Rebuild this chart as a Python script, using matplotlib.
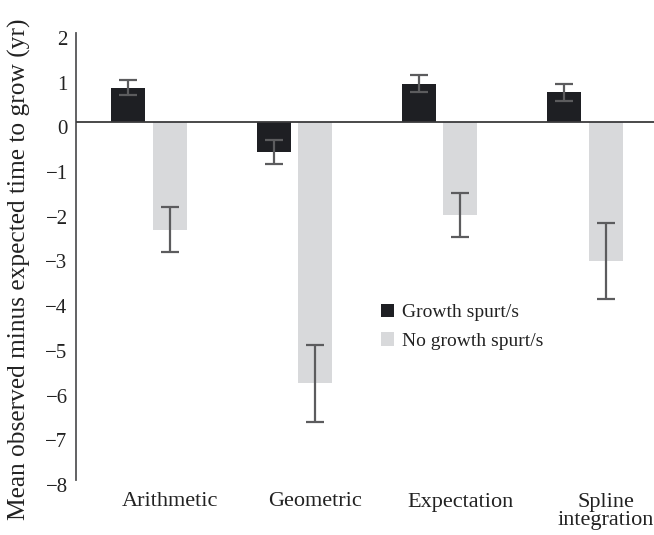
import matplotlib
matplotlib.use("Agg")
import matplotlib.pyplot as plt
import matplotlib.transforms as mtrans
import numpy as np

categories = ["Arithmetic", "Geometric", "Expectation", "Spline\nintegration"]
growth = [0.78, -0.66, 0.87, 0.67]
growth_err = [0.17, 0.26, 0.18, 0.20]
no_growth = [-2.40, -5.84, -2.07, -3.10]
no_growth_err = [0.50, 0.86, 0.49, 0.86]
yticks = [2, 1, 0, -1, -2, -3, -4, -5, -6, -7, -8]

plt.rcParams['font.family'] = ['Liberation Serif', 'DejaVu Serif']

fig = plt.figure(figsize=(6.54, 5.35), dpi=100)
ax = fig.add_axes([76/654, 1-480/535, 1-76/654, (480-33)/535])

x = np.arange(len(categories))
off = 0.143
w = 0.234
ek = dict(ecolor="#5c5c5e", elinewidth=1.6, capsize=6.5, capthick=1.6)
ax.bar(x - off, growth, w, yerr=growth_err, color="#1e1f23", error_kw=ek,
       label="Growth spurt/s", zorder=2)
ax.bar(x + off, no_growth, w, yerr=no_growth_err, color="#d8d9db", error_kw=ek,
       label="No growth spurt/s", zorder=2)
ax.axhline(0, color="#3a3a3c", lw=1.3, zorder=3)

ax.set_xlim(-0.502, 3.475)
ax.set_ylim(-8, 2)
ax.set_yticks(yticks)
ax.set_yticklabels([("\u2212" + str(-t)) if t < 0 else str(t) for t in yticks], fontsize=15)
ax.set_xticks(x + off)
ax.set_xticklabels(categories, fontsize=16, linespacing=0.95)
ax.tick_params(axis='y', length=0, pad=6, colors="#222222")
ax.tick_params(axis='x', length=0, pad=9, colors="#222222")
shift = mtrans.ScaledTranslation(0, -5/100, fig.dpi_scale_trans)
for lab in ax.get_yticklabels():
    lab.set_transform(lab.get_transform() + shift)
for s in ["top", "right", "bottom"]:
    ax.spines[s].set_visible(False)
ax.spines["left"].set_color("#555557")
ax.spines["left"].set_linewidth(1.3)
ax.set_ylabel("Mean observed minus expected time to grow (yr)", fontsize=18.3,
              color="#222222")
ax.yaxis.set_label_coords(-0.078, 0.472)

leg = ax.legend(loc="upper left", bbox_to_anchor=(295/578, 1-(294-33)/447),
                frameon=False, fontsize=14, handlelength=0.7, handleheight=0.7,
                handletextpad=0.4, labelspacing=0.55, borderpad=0)
for t in leg.get_texts():
    t.set_color("#222222")

fig.savefig("out.png", dpi=100)
